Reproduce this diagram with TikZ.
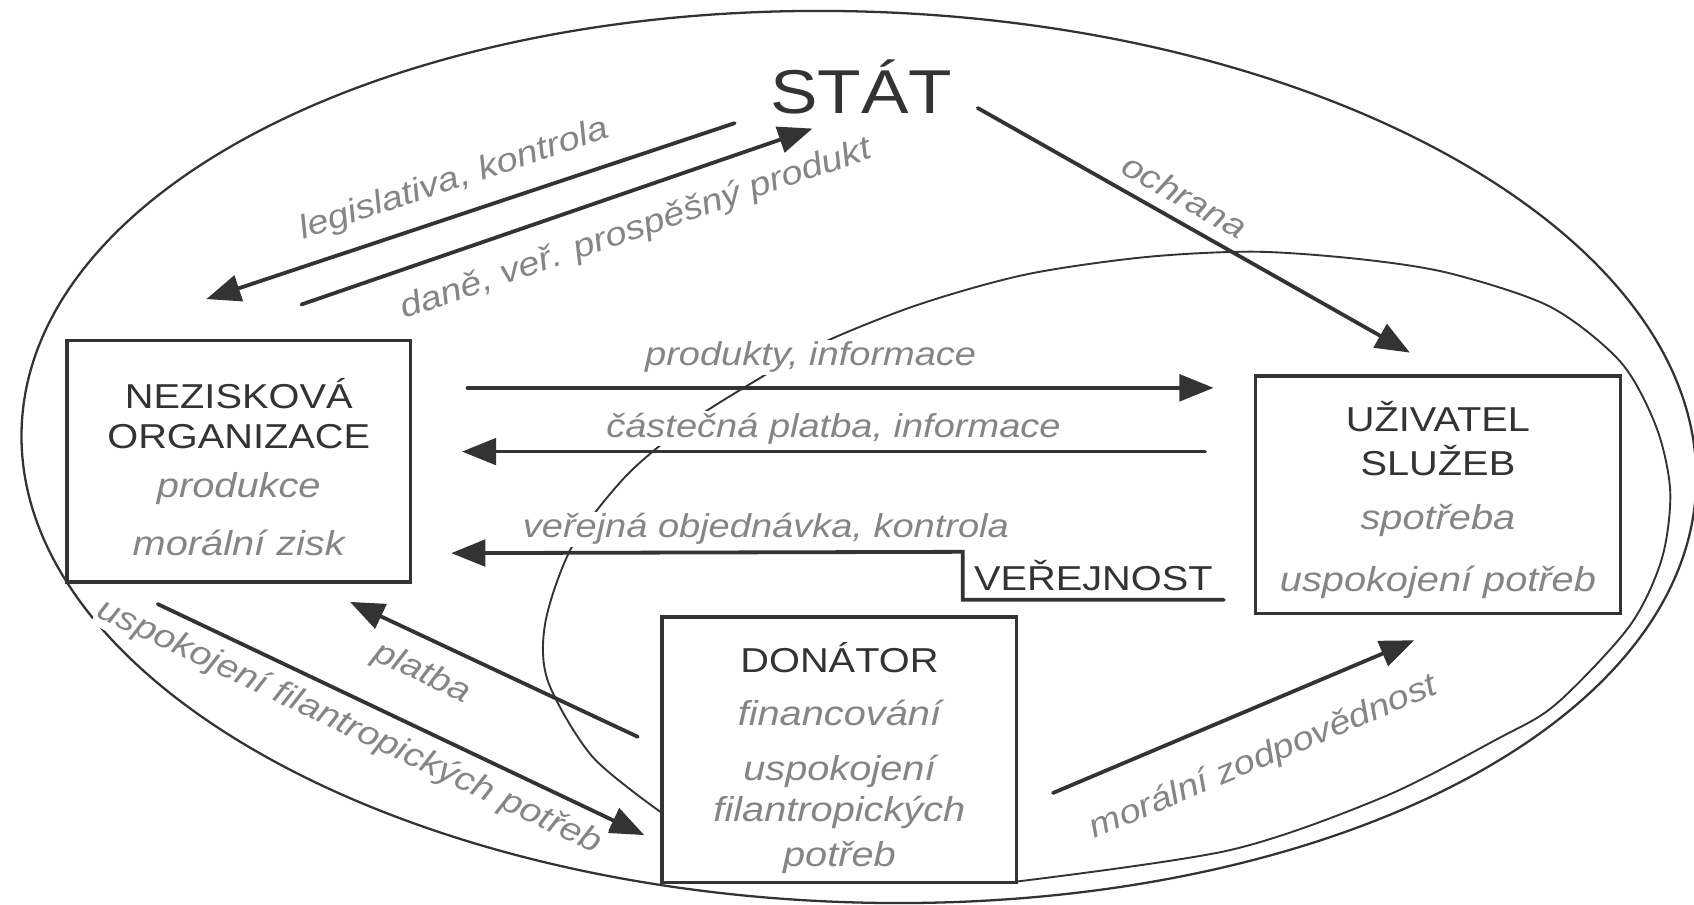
\documentclass[tikz,border=0pt]{standalone}
\usepackage{fontspec}
\setmainfont{Liberation Sans}[FakeStretch=1.15]
\usetikzlibrary{arrows.meta,calc}
\definecolor{ink}{HTML}{333333}
\definecolor{soft}{HTML}{858585}
\newcommand{\rolenote}[1]{{\color{soft}\itshape #1}}

\begin{document}
\begin{tikzpicture}[x=0.01cm, y=-0.01cm, line cap=round,
    box/.style={draw=ink, line width=0.9pt, fill=white, align=center, text=ink, inner sep=0pt, font=\fontsize{9.1}{12}\selectfont},
    lbl/.style={text=soft, font=\fontsize{8.7}{10}\selectfont\itshape, fill=white, inner sep=0.5pt},
    arr/.style={draw=ink, line width=1pt, -{Triangle[length=9pt,width=7pt]}}]
  \useasboundingbox (0,0) rectangle (1568,837);

  \draw[ink, line width=0.6pt, rotate around={-2:(795,423)}] (795,423) ellipse [x radius=7.75cm, y radius=4.12cm];
  \draw[ink, line width=0.5pt] plot[smooth, tension=0.5] coordinates {(612,752) (548,700) (507,630) (505,575) (530,505) (580,440) (640,390) (700,352) (760,318) (850,282) (950,254) (1060,238) (1162,233) (1260,240) (1342,253) (1435,284) (1500,335) (1533,395) (1546,455) (1538,518) (1508,580) (1440,652) (1386,684) (1280,738) (1138,787) (941,816)};

  \node[text=ink, font=\fontsize{16.3}{18}\selectfont, anchor=base, inner sep=0pt] (stat) at (797,105) {STÁT};
  \node[box, minimum width=3.18cm, minimum height=2.23cm] (nez) at (221,427)
    {\rule{0pt}{11pt}NEZISKOVÁ\\[-1.3pt]ORGANIZACE\\[0.7pt]\rolenote{produkce}\\[3.4pt]\rolenote{morální zisk}};
  \node[box, minimum width=3.38cm, minimum height=2.2cm] (uz) at (1331,458)
    {\rule{0pt}{10.5pt}UŽIVATEL\\[-0.3pt]SLUŽEB\\[2.1pt]\rolenote{spotřeba}\\[4.3pt]\rolenote{uspokojení potřeb}};
  \node[box, minimum width=3.28cm, minimum height=2.46cm] (don) at (777,694)
    {\rule{0pt}{12.2pt}DONÁTOR\\[2pt]\rolenote{financování}\\[2.4pt]\rolenote{uspokojení}\\[-1.1pt]\rolenote{filantropických}\\[-0.4pt]\rolenote{potřeb}};
  \node[text=ink, font=\fontsize{9.1}{12}\selectfont, minimum width=2.4cm, minimum height=0.43cm, inner sep=0pt] (pub) at (1012,533) {VEŘEJNOST};

  \draw[arr] ($(stat.base)+(-117,9)$) -- node[lbl, sloped, above=4pt, pos=.51] {legislativa, kontrola} ($(nez.north)+(-30,-37)$);
  \draw[arr] ($(nez.north)+(58,-32)$) -- node[lbl, sloped, below=5pt, pos=.63] {daně, veř. prospěšný produkt} ($(stat.base)+(-45,14)$);
  \draw[arr] ($(stat.base)+(108,-5)$) -- node[lbl, sloped, above=2.5pt, pos=.45] {ochrana} ($(uz.north)+(-26,-20)$);

  \draw[arr] ($(nez.east)+(51,-68)$) -- node[lbl, above=3pt, pos=.46] {produkty, informace} ($(uz.west)+(-37,-99)$);
  \draw[arr] ($(uz.west)+(-45,-40)$) -- node[lbl, above=1pt, pos=.5] {částečná platba, informace} ($(nez.east)+(46,-9)$);
  \draw[arr] (pub.south east) -- (pub.south west) -- (pub.north west) -- node[lbl, above=1pt, pos=.385] {veřejná objednávka, kontrola} ($(nez.east)+(36,85)$);

  \draw[arr] ($(don.west)+(-21,-12)$) -- node[lbl, sloped, below=4pt, pos=.70] {platba} ($(nez.south)+(103,17)$);
  \draw[arr] ($(nez.south)+(-75,19)$) -- node[lbl, sloped, below=2.5pt, pos=.42] {uspokojení filantropických potřeb} ($(don.west)+(-15,79)$);
  \draw[arr] ($(don.east)+(32,40)$) -- node[lbl, sloped, below=8pt, pos=.53] {morální zodpovědnost} ($(uz.south)+(-22,23)$);
\end{tikzpicture}
\end{document}
